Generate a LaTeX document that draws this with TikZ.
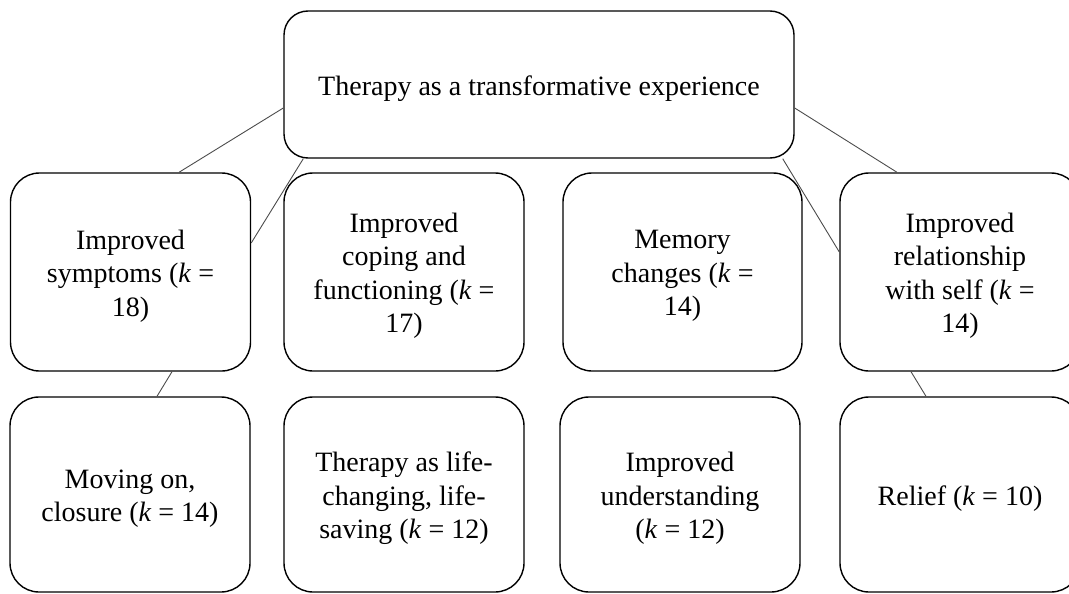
\documentclass[tikz,border=0pt]{standalone}
\usepackage{fontspec}
\setmainfont{Liberation Serif}
\usetikzlibrary{calc}
\begin{document}
\begin{tikzpicture}[x=1pt,y=-1pt,
  boxtext/.style={inner sep=0pt,align=center,yshift=-4pt,font=\fontsize{28}{33.5}\selectfont},
  topbox/.style={draw=black,line width=1.4pt,rounded corners=24pt,minimum width=510pt,minimum height=147pt,inner sep=0pt},
  subbox/.style={draw=black,line width=1.4pt,rounded corners=29pt,minimum width=240pt,minimum height=198pt,inner sep=0pt},
  leafbox/.style={subbox,minimum height=195pt},
  link/.style={draw=black!70,line width=0.9pt}]
\useasboundingbox (0,0) rectangle (1069,594);
\node[topbox,label={[boxtext]center:{Therapy as a transformative experience}}] (top) at (539,84.5) {};
\node[subbox,label={[boxtext]center:{Improved\\symptoms (\textit{k} =\\18)}}] (b1) at (130.5,272) {};
\node[subbox,label={[boxtext]center:{Improved\\coping and\\functioning (\textit{k} =\\17)}}] (b2) at (404,272) {};
\node[subbox,minimum width=239pt,label={[boxtext]center:{Memory\\changes (\textit{k} =\\14)}}] (b3) at (682.5,272) {};
\node[subbox,label={[boxtext]center:{Improved\\relationship\\with self (\textit{k} =\\14)}}] (b4) at (960,272) {};
\node[leafbox,label={[boxtext]center:{Moving on,\\closure (\textit{k} = 14)}}] (c1) at (130,494.5) {};
\node[leafbox,label={[boxtext]center:{Therapy as life-\\changing, life-\\saving (\textit{k} = 12)}}] (c2) at (404,494.5) {};
\node[leafbox,label={[boxtext]center:{Improved\\understanding\\(\textit{k} = 12)}}] (c3) at (680,494.5) {};
\node[leafbox,label={[boxtext]center:{Relief (\textit{k} = 10)}}] (c4) at (960,494.5) {};
% top to first row
\draw[link] ($(top.west)+(0,23.5)$) -- ($(b1.north)+(48.5,0)$);
\draw[link] ($(top.south west)+(20,0)$) -- ($(b1.east)+(0,-29)$);
\draw[link] ($(b2.north)+(9,0)$) -- ($(b2.north)+(9,0)$ |- top.south);
\draw[link] ($(b3.north)+(-5.5,0)$) -- ($(b3.north)+(-5.5,0)$ |- top.south);
\draw[link] ($(top.south east)+(-12,0)$) -- ($(b4.west)+(0,-20)$);
\draw[link] ($(top.east)+(0,23.5)$) -- ($(b4.north)+(-63,0)$);
% first row to second row
\draw[link] ($(b1.south)+(41.5,0)$) -- ($(c1.north)+(27,0)$);
\draw[link] ($(b2.south)+(9,0)$) -- ($(b2.south)+(9,0)$ |- c2.north);
\draw[link] ($(b3.south)+(-5.5,0)$) -- ($(b3.south)+(-5.5,0)$ |- c3.north);
\draw[link] ($(b4.south)+(-49,0)$) -- ($(c4.north)+(-34,0)$);
\end{tikzpicture}
\end{document}
